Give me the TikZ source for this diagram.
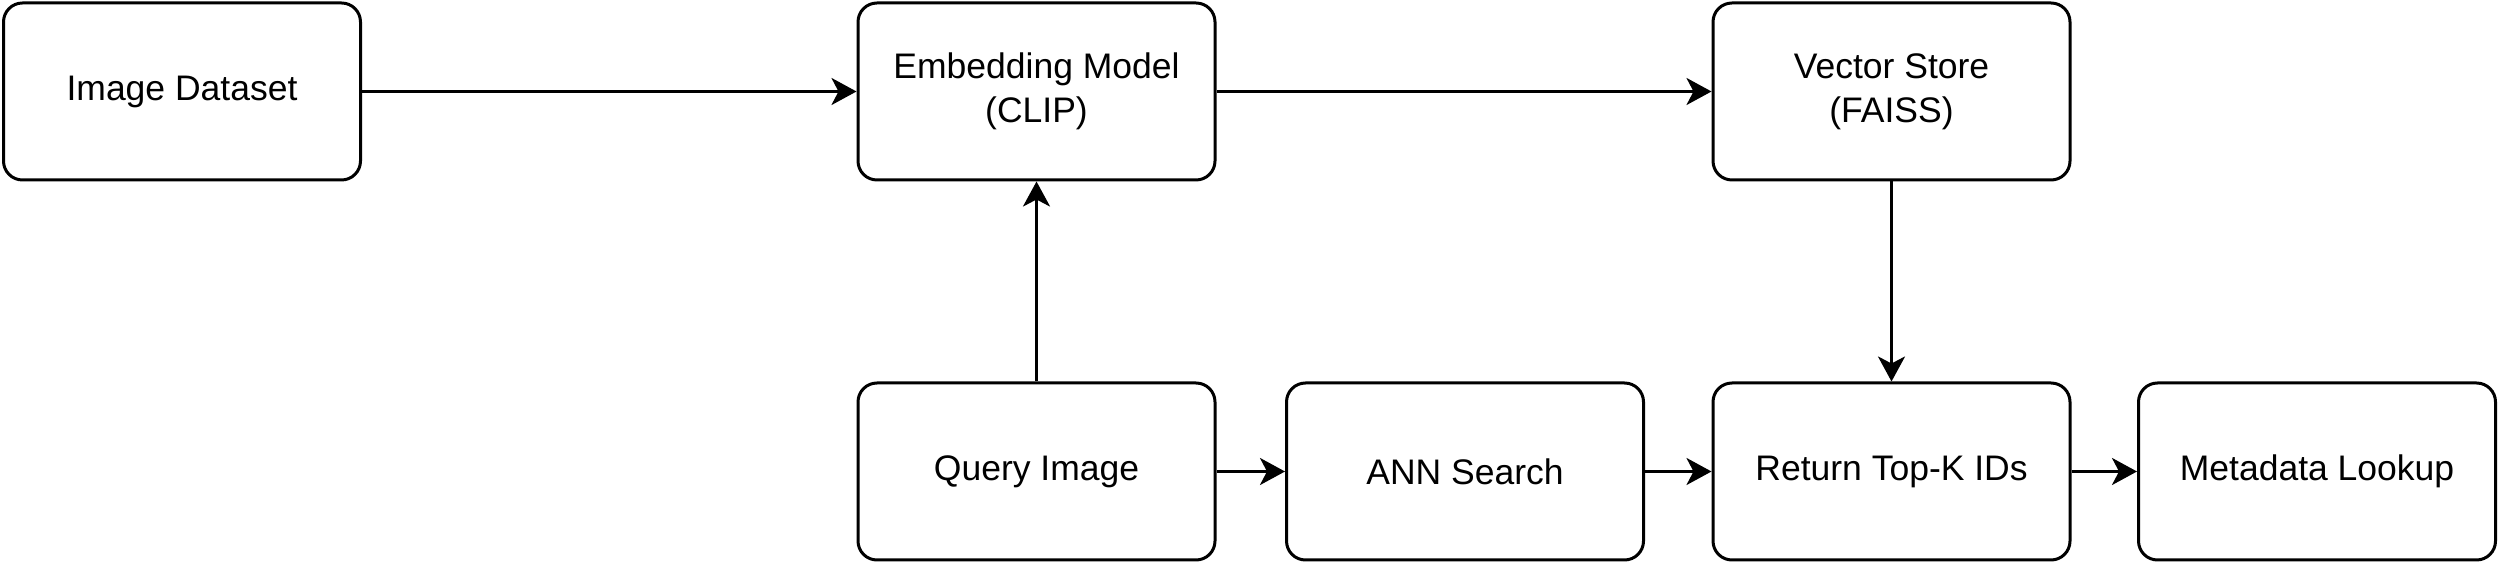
\documentclass[tikz,border=0pt]{standalone}
\usepackage{fontspec}
\setmainfont{Liberation Sans}
\usetikzlibrary{arrows.meta}
\begin{document}
\begin{tikzpicture}[x=1pt,y=1pt,
  box/.style={draw=black, line width=3pt, rounded corners=19pt, fill=white,
    minimum width=357pt, minimum height=177pt, inner sep=0pt, align=center,
    font=\fontsize{35.5}{44}\selectfont},
  arr/.style={line width=3pt, -{Stealth[length=25pt,width=27pt,inset=7pt]}}]
\useasboundingbox (0,0) rectangle (2502,564);
\fill[white] (0,0) rectangle (2502,564);
\node[box] (id)  at (182,472.5)    {Image Dataset};
\node[box] (emb) at (1036.5,472.5) {Embedding Model\\(CLIP)};
\node[box] (vs)  at (1891.5,472.5) {Vector Store\\(FAISS)};
\node[box] (q)   at (1036.5,92.5)  {Query Image};
\node[box] (ann) at (1465,92.5)    {ANN Search};
\node[box] (rt)  at (1891.5,92.5)  {Return Top-K IDs};
\node[box] (ml)  at (2317,92.5)    {Metadata Lookup};
\draw[arr] (id) -- (emb);
\draw[arr] (emb) -- (vs);
\draw[arr] (q) -- (emb);
\draw[arr] (vs) -- (rt);
\draw[arr] (q) -- (ann);
\draw[arr] (ann) -- (rt);
\draw[arr] (rt) -- (ml);
\end{tikzpicture}
\end{document}
